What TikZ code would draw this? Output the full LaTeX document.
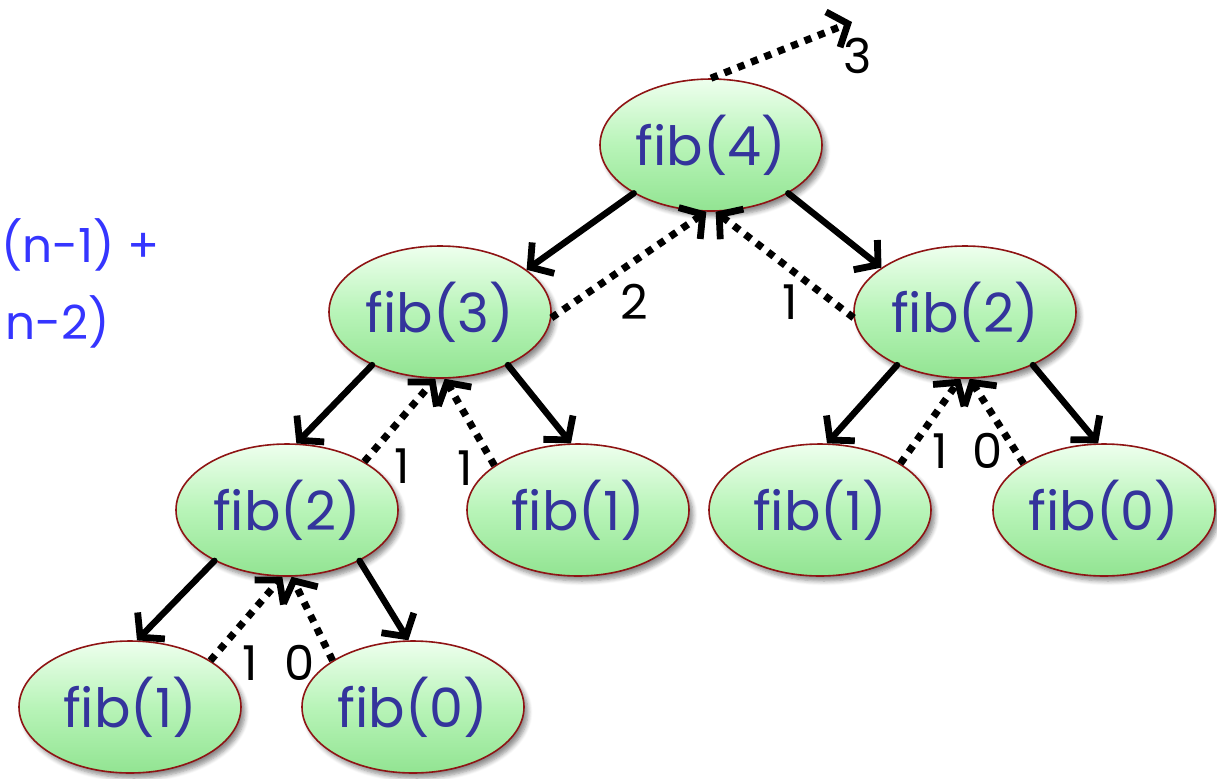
\documentclass[tikz,border=0pt]{standalone}
\usepackage{fontspec}
\setmainfont{Poppins}
\usetikzlibrary{shapes.geometric,arrows.meta,shadows.blur}
\definecolor{fibtext}{HTML}{34349C}
\definecolor{lefttext}{HTML}{3535FF}
\definecolor{rimred}{HTML}{8E1414}
\definecolor{gtop}{HTML}{EEFFEE}
\definecolor{gmid}{HTML}{B8F4B8}
\definecolor{gbot}{HTML}{92E492}
\begin{document}
\begin{tikzpicture}[x=0.5pt,y=-0.5pt,
  fibnode/.style={ellipse, draw=rimred, line width=0.8pt,
    top color=gtop, bottom color=gbot, middle color=gmid,
    minimum width=111pt, minimum height=66pt, inner sep=0pt,
    font=\fontsize{27}{30}\selectfont, text=fibtext,
    blur shadow={shadow xshift=2pt, shadow yshift=-2.5pt, shadow blur steps=6, shadow opacity=45}},
  call/.style={line width=3.2pt, line cap=round,
    -{Straight Barb[length=8pt,width=19pt,line width=3.4pt]}},
  ret/.style={line width=3.6pt, dash pattern=on 3.6pt off 3.6pt,
    -{Straight Barb[length=8pt,width=19pt,line width=3.4pt]}},
  num/.style={font=\fontsize{24}{26}\selectfont, text=black, inner sep=0pt},
  side/.style={font=\fontsize{23.5}{26}\selectfont, text=lefttext, inner sep=0pt, anchor=west}]
\useasboundingbox (0,0) rectangle (1217,778);

% left partial formula
\node[side] (l1) at (1,245) {(n-1) +};
\node[side] (l2) at (5,322) {n-2)};

% nodes
\node[fibnode] (f4)  at (711,145) {fib(4)};
\node[fibnode] (f3)  at (440,312) {fib(3)};
\node[fibnode] (f2r) at (965,312) {fib(2)};
\node[fibnode] (f2l) at (287,510) {fib(2)};
\node[fibnode] (f1m) at (578,510) {fib(1)};
\node[fibnode] (f1r) at (820,510) {fib(1)};
\node[fibnode] (f0r) at (1104,510) {fib(0)};
\node[fibnode] (f1b) at (130,707) {fib(1)};
\node[fibnode] (f0b) at (413,707) {fib(0)};

% calls
\draw[call] (f4.212) -- (f3.26);
\draw[call] (f4.328) -- (f2r.152);
\draw[call] (f3.218) -- (f2l.82);
\draw[call] (f3.322) -- (f1m.96);
\draw[call] (f2r.218) -- (f1r.84);
\draw[call] (f2r.322) -- (f0r.95);
\draw[call] (f2l.215) -- (f1b.84);
\draw[call] (f2l.325) -- (f0b.94);

% returns
\coordinate (out) at (852,22);
\draw[ret] (f4.90) -- (out);
\draw[ret] (f3.357) -- (f4.266);
\draw[ret] (f2r.183) -- (f4.274);
\draw[ret] (f2l.32) -- (f3.266);
\draw[ret] (f1m.152) -- (f3.274);
\draw[ret] (f1r.30) -- (f2r.266);
\draw[ret] (f0r.150) -- (f2r.274);
\draw[ret] (f1b.30) -- (f2l.266);
\draw[ret] (f0b.150) -- (f2l.274);

% return values
\node[num] (v3)  at (858,56) {3};
\node[num] (v2)  at (634,302) {2};
\node[num] (v1a) at (790,302) {1};
\node[num] (v1b) at (402,466) {1};
\node[num] (v1c) at (465,468) {1};
\node[num] (v1d) at (940,451) {1};
\node[num] (v0a) at (988,451) {0};
\node[num] (v1e) at (250,663) {1};
\node[num] (v0b) at (300,663) {0};
\end{tikzpicture}
\end{document}
